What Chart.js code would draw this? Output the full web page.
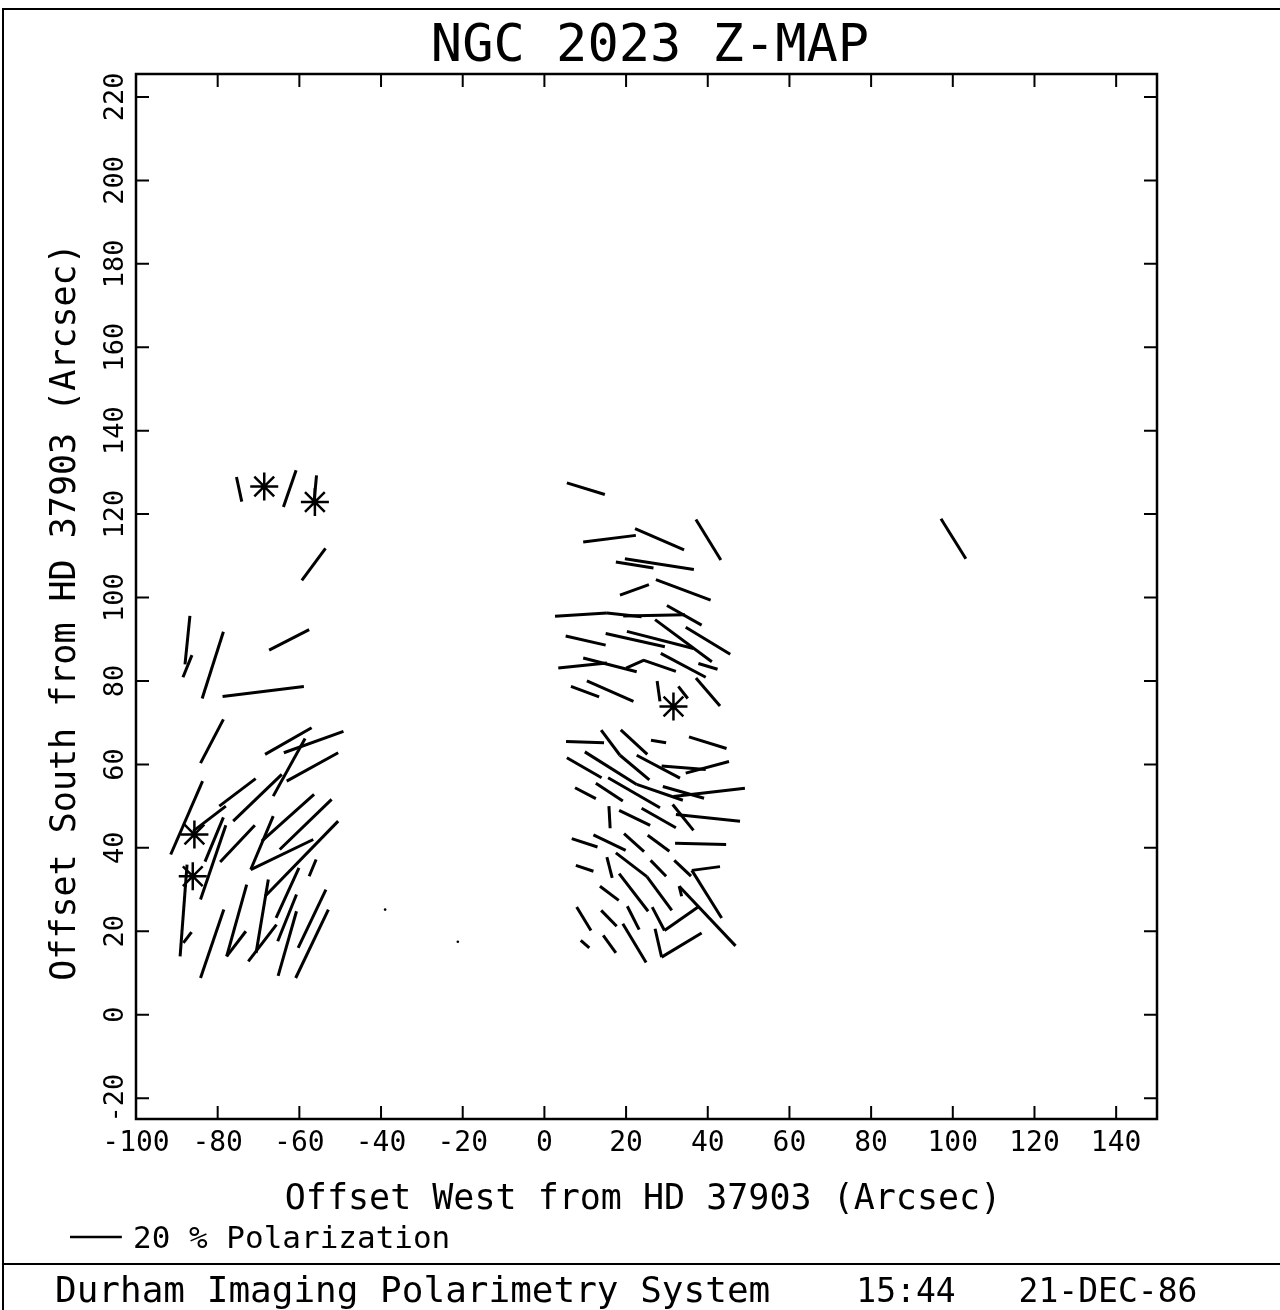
<!DOCTYPE html>
<html>
<head>
<meta charset="utf-8">
<title>NGC 2023 Z-MAP</title>
<script src="https://cdn.jsdelivr.net/npm/chart.js@4.4.1/dist/chart.umd.min.js"></script>
<style>
  html, body { margin: 0; padding: 0; background: #fff; }
</style>
</head>
<body>
<canvas id="zmap" width="1280" height="1310"></canvas>
<script>
// polarization vectors, start and end of each bar in arcsec offsets (west, south) from HD 37903
// first block = western nebula edge, second block = bright bar, last one = isolated vector
const vecX1 = [
  -75.4, -60.8, -55.8, -53.6, -86.8, -86.3, -78.6, -57.6, -58.9, -78.6,
  -57.0, -49.2, -50.5, -58.6, -70.7, -64.3, -83.7, -78.0, -78.0, -78.6,
  -70.9, -56.4, -66.4, -71.9, -52.1, -50.5, -55.9, -60.1, -67.6, -72.9,
  -73.1, -78.5, -87.5, -86.4, -65.6, -60.7, -60.7, -53.5, -52.9,
  5.5, 9.5, 22.2, 37.1, 17.5, 19.7, 18.5, 27.3, 2.6, 15.3,
  19.3, 30.0, 27.1, 34.6, 5.2, 15.0, 20.2, 3.4, 9.5, 20.0,
  24.2, 28.5, 37.7, 6.5, 10.4, 27.6, 32.8, 37.1,
  5.3, 13.9, 18.5, 18.7, 26.1, 35.4, 5.5, 9.9, 22.6, 22.6,
  28.7, 34.6, 7.5, 12.6, 15.6, 29.0, 31.6, 15.8, 18.3, 23.8,
  31.4, 32.2, 6.7, 12.0, 19.5, 25.3, 32.0, 7.7, 15.3, 17.5,
  25.1, 26.0, 31.8, 36.1, 36.1, 18.3, 13.6, 33.0, 33.0, 7.9,
  13.9, 20.3, 26.4, 29.4, 8.9, 14.4, 19.2, 27.1, 28.7,
  97.1
];
const vecY1 = [
  128.9, 130.5, 129.3, 111.8, 95.6, 86.2, 91.8, 92.3, 78.7, 70.8,
  68.8, 67.9, 62.8, 66.2, 56.6, 57.6, 56.0, 50.0, 45.4, 47.3,
  45.4, 52.8, 47.6, 34.8, 51.6, 46.4, 37.2, 35.2, 32.4, 31.2,
  20.0, 25.2, 36.0, 19.8, 21.6, 28.8, 24.8, 30.0, 25.2,
  127.5, 113.3, 116.5, 118.7, 108.5, 109.3, 100.6, 104.3, 95.5, 96.3,
  95.6, 98.1, 94.7, 92.9, 90.8, 91.4, 91.9, 83.1, 85.5, 83.1,
  85.0, 86.6, 84.2, 78.7, 80.0, 80.0, 78.7, 80.7,
  65.5, 68.2, 62.2, 68.3, 65.8, 66.6, 61.6, 63.0, 55.2, 62.2,
  59.6, 57.9, 54.4, 55.5, 56.8, 54.7, 52.3, 50.0, 49.0, 49.5,
  50.4, 48.0, 42.2, 43.1, 43.4, 43.0, 41.1, 35.8, 37.8, 38.8,
  33.1, 37.0, 37.0, 34.6, 34.6, 33.8, 30.8, 30.8, 30.8, 25.8,
  25.0, 26.0, 25.8, 20.2, 17.8, 19.0, 21.8, 20.6, 13.8,
  118.9
];
const vecX2 = [
  -74.1, -63.9, -56.4, -59.4, -88.0, -88.5, -83.8, -67.4, -78.8, -84.2,
  -68.4, -63.8, -63.1, -66.4, -79.6, -76.2, -91.5, -86.0, -84.2, -83.1,
  -79.4, -69.2, -71.9, -56.6, -64.8, -68.4, -57.6, -65.7, -70.6, -77.8,
  -77.8, -84.2, -89.2, -88.4, -72.5, -65.3, -65.2, -60.3, -60.9,
  14.8, 22.4, 34.2, 43.2, 26.7, 36.6, 25.6, 40.7, 15.3, 23.8,
  34.4, 38.5, 41.0, 45.5, 15.0, 29.5, 36.5, 15.3, 22.6, 24.4,
  32.2, 39.5, 42.4, 13.4, 21.8, 28.3, 35.1, 43.0,
  14.6, 18.5, 25.7, 25.2, 29.8, 44.6, 14.0, 22.6, 33.9, 33.2,
  39.5, 45.2, 12.6, 19.2, 28.3, 39.1, 49.1, 16.1, 25.9, 32.2,
  36.5, 47.9, 13.0, 19.9, 24.4, 30.6, 44.5, 12.0, 16.6, 25.1,
  31.2, 29.8, 35.9, 43.0, 43.4, 25.4, 18.2, 46.8, 33.6, 11.4,
  17.7, 23.2, 29.4, 37.9, 11.0, 17.5, 24.9, 28.7, 38.5,
  103.2
];
const vecY2 = [
  123.0, 121.7, 122.9, 104.1, 84.0, 80.9, 75.8, 87.4, 76.3, 60.3,
  62.4, 62.8, 56.0, 52.4, 50.0, 46.4, 38.4, 44.0, 27.6, 36.7,
  36.6, 41.6, 34.8, 42.0, 39.6, 28.4, 33.2, 23.2, 14.8, 14.0,
  14.0, 8.8, 14.0, 17.2, 12.8, 17.6, 9.3, 16.0, 8.8,
  124.7, 114.9, 111.4, 109.0, 107.1, 106.7, 103.1, 99.4, 96.3, 95.4,
  95.9, 93.4, 84.6, 86.4, 88.6, 88.2, 87.8, 84.3, 82.2, 85.0,
  82.3, 80.9, 82.8, 76.2, 75.1, 75.1, 75.8, 74.0,
  65.2, 62.2, 56.3, 62.4, 65.2, 63.8, 56.8, 55.2, 51.4, 56.7,
  58.8, 60.7, 51.8, 51.2, 49.6, 51.9, 54.3, 44.7, 45.4, 44.8,
  44.2, 46.4, 40.2, 39.4, 39.1, 39.2, 40.8, 34.4, 32.8, 33.1,
  25.0, 33.2, 33.2, 35.5, 23.2, 24.8, 27.4, 16.5, 28.4, 20.2,
  21.2, 20.4, 20.2, 26.0, 16.0, 14.8, 12.5, 13.8, 19.6,
  109.3
];

// stars marked on the map
const starX = [-68.6, -56.2, -85.7, -86.1, 31.6];
const starY = [126.6, 122.9, 43.2, 33.2, 73.9];

// two stray dots
const speckX = [-21.2, -39.0];
const speckY = [17.5, 25.2];

// 20 % polarization shown as a bar of this many arcsec
const polScalePct = 20;
const polScaleArcsec = 12.7;

const FONT = '"DejaVu Sans Mono", "Liberation Mono", monospace';
const TICK = 13;

const vectorSets = vecX1.map((x1, i) => ({
  data: [{x: x1, y: vecY1[i]}, {x: vecX2[i], y: vecY2[i]}],
  showLine: true,
  borderColor: '#000',
  borderWidth: 3,
  pointRadius: 0
}));

const starSet = {
  data: starX.map((x, i) => ({x: x, y: starY[i]})),
  pointStyle: 'star',
  pointRadius: 14,
  borderColor: '#000',
  backgroundColor: 'rgba(0,0,0,0)',
  borderWidth: 2.5
};

const speckSet = {
  data: speckX.map((x, i) => ({x: x, y: speckY[i]})),
  pointRadius: 1.3,
  borderWidth: 0,
  backgroundColor: '#000'
};

// box, inward ticks on all four sides and the text round the plot
const framePlugin = {
  id: 'frame',
  afterDraw(chart) {
    const {ctx, chartArea: a} = chart;
    const x = chart.scales.x, y = chart.scales.y;
    ctx.save();
    ctx.strokeStyle = '#000';
    ctx.fillStyle = '#000';
    ctx.lineWidth = 2.5;
    ctx.strokeRect(a.left, a.top, a.right - a.left, a.bottom - a.top);

    ctx.lineWidth = 2;
    ctx.beginPath();
    x.ticks.forEach(t => {
      const px = x.getPixelForValue(t.value);
      ctx.moveTo(px, a.bottom); ctx.lineTo(px, a.bottom - TICK);
      ctx.moveTo(px, a.top); ctx.lineTo(px, a.top + TICK);
    });
    y.ticks.forEach(t => {
      const py = y.getPixelForValue(t.value);
      ctx.moveTo(a.left, py); ctx.lineTo(a.left + TICK, py);
      ctx.moveTo(a.right, py); ctx.lineTo(a.right - TICK, py);
    });
    ctx.stroke();

    // page border and footer rule
    ctx.beginPath();
    ctx.moveTo(3, 1310); ctx.lineTo(3, 9); ctx.lineTo(1280, 9);
    ctx.moveTo(3, 1264); ctx.lineTo(1280, 1264);
    ctx.stroke();

    ctx.textBaseline = 'alphabetic';
    ctx.textAlign = 'center';
    ctx.font = '52px ' + FONT;
    ctx.fillText('NGC 2023 Z-MAP', 650, 61);

    ctx.font = '35px ' + FONT;
    ctx.fillText('Offset West from HD 37903 (Arcsec)', 643, 1209);

    ctx.save();
    ctx.translate(75, 612);
    ctx.rotate(-Math.PI / 2);
    ctx.fillText('Offset South from HD 37903 (Arcsec)', 0, 0);
    ctx.restore();

    // polarization scale bar
    const barLen = x.getPixelForValue(polScaleArcsec) - x.getPixelForValue(0);
    ctx.lineWidth = 2.5;
    ctx.beginPath();
    ctx.moveTo(70, 1237); ctx.lineTo(70 + barLen, 1237);
    ctx.stroke();
    ctx.textAlign = 'left';
    ctx.font = '31px ' + FONT;
    ctx.fillText(polScalePct + ' % Polarization', 133, 1248);

    ctx.font = '36px ' + FONT;
    ctx.fillText('Durham Imaging Polarimetry System', 55, 1302);
    ctx.textAlign = 'center';
    ctx.font = '33px ' + FONT;
    ctx.fillText('15:44', 906, 1302);
    ctx.fillText('21-DEC-86', 1108, 1302);
    ctx.restore();
  }
};

const chart = new Chart(document.getElementById('zmap').getContext('2d'), {
  type: 'scatter',
  data: {
    datasets: vectorSets.concat([starSet, speckSet])
  },
  options: {
    responsive: false,
    animation: false,
    events: [],
    layout: {padding: {left: 0, top: 74, right: 123, bottom: 0}},
    plugins: {
      legend: {display: false},
      tooltip: {enabled: false}
    },
    scales: {
      x: {
        type: 'linear',
        min: -100,
        max: 150,
        grid: {display: false, drawTicks: false},
        border: {display: false},
        ticks: {
          stepSize: 20, includeBounds: false, autoSkip: false, maxRotation: 0,
          padding: 8, color: '#000', font: {family: FONT, size: 28}
        },
        afterFit(s) { s.height = 191; }
      },
      y: {
        type: 'linear',
        min: -25,
        max: 225.5,
        grid: {display: false, drawTicks: false},
        border: {display: false},
        ticks: {
          stepSize: 20, includeBounds: false, autoSkip: false,
          minRotation: 90, maxRotation: 90, crossAlign: 'center',
          padding: -4, color: '#000', font: {family: FONT, size: 27}
        },
        afterFit(s) { s.width = 136; }
      }
    }
  },
  plugins: [framePlugin]
});
</script>
</body>
</html>
